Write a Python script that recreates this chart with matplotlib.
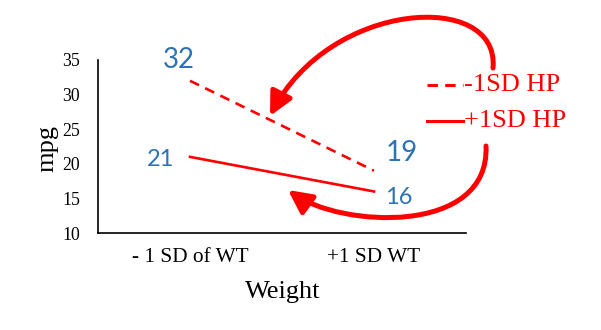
import matplotlib
matplotlib.use("Agg")
import matplotlib.pyplot as plt
from matplotlib.path import Path
from matplotlib.patches import FancyArrowPatch

# data
categories = ["- 1 SD of WT", "+1 SD WT"]
low_hp = [32, 19]    # -1SD HP (dashed)
high_hp = [21, 16]   # +1SD HP (solid)
yticks = [10, 15, 20, 25, 30, 35]

red = "#FF0000"
blue = "#2E74B5"
serif = "Liberation Serif"

fig = plt.figure(figsize=(6.01, 3.30), dpi=100)
ax = fig.add_axes([98 / 601, 1 - 233 / 330, 368 / 601, 173 / 330])

x = [0.5, 1.5]
ax.plot(x, low_hp, color=red, lw=1.9, dashes=(3.8, 2.6))
ax.plot(x, high_hp, color=red, lw=1.9)

ax.set_xlim(0, 2)
ax.set_ylim(10, 35)
ax.set_xticks(x)
ax.set_xticklabels(categories, fontfamily=serif, fontsize=15.3)
ax.set_yticks(yticks)
ax.set_yticklabels([str(v) for v in yticks], fontfamily=serif, fontsize=12.8)
ax.tick_params(axis="both", length=0)
ax.tick_params(axis="x", pad=11)
ax.tick_params(axis="y", pad=13)
for s in ["top", "right"]:
    ax.spines[s].set_visible(False)
for s in ["left", "bottom"]:
    ax.spines[s].set_linewidth(1.2)

# value labels
lab_font = dict(color=blue, fontfamily="Lato", ha="center", va="center")
ax.annotate(str(low_hp[0]), (x[0], low_hp[0]), xytext=(-8, 15),
            textcoords="offset points", fontsize=20, **lab_font)
ax.annotate(str(low_hp[1]), (x[1], low_hp[1]), xytext=(20, 13),
            textcoords="offset points", fontsize=20, **lab_font)
ax.annotate(str(high_hp[0]), (x[0], high_hp[0]), xytext=(-21, -2),
            textcoords="offset points", fontsize=17, **lab_font)
ax.annotate(str(high_hp[1]), (x[1], high_hp[1]), xytext=(18, -4),
            textcoords="offset points", fontsize=17, **lab_font)

fig.text(47 / 601, 1 - 148 / 330, "mpg", rotation=90, fontfamily=serif,
         fontsize=19, ha="center", va="center")
fig.text(283 / 601, 1 - 292 / 330, "Weight", fontfamily=serif,
         fontsize=19, ha="center", va="center")

# overlay in pixel coords for legend and arrows
ov = fig.add_axes([0, 0, 1, 1], facecolor="none")
ov.set_xlim(0, 601)
ov.set_ylim(330, 0)
ov.axis("off")

ov.plot([427, 463], [85, 85], color=red, lw=2.2, dashes=(3.4, 2.4))
ov.plot([427, 463], [121, 121], color=red, lw=2.2)
ov.text(464, 85, "-1SD HP", color=red, fontfamily=serif, fontsize=19,
        ha="left", va="center")
ov.text(464, 121, "+1SD HP", color=red, fontfamily=serif, fontsize=19,
        ha="left", va="center")

curves = [
    [(493, 68), (500, -10), (330, 0), (270, 116)],
    [(486, 146), (490, 236), (340, 228), (288, 190)],
]
for pts in curves:
    path = Path(pts, [Path.MOVETO, Path.CURVE4, Path.CURVE4, Path.CURVE4])
    arr = FancyArrowPatch(path=path, arrowstyle="-|>,head_length=14,head_width=7",
                          color=red, lw=3.6, mutation_scale=1)
    ov.add_patch(arr)

fig.savefig("out.png", dpi=100)
